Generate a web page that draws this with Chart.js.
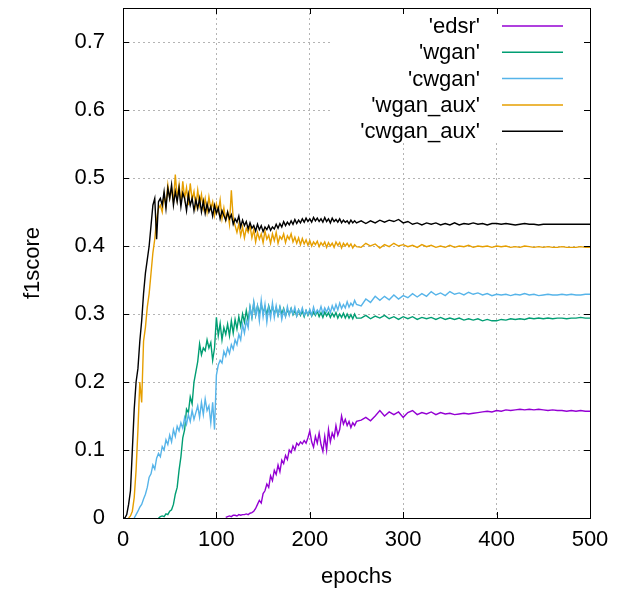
<!DOCTYPE html>
<html lang="en">
<head>
<meta charset="UTF-8">
<title>f1score vs epochs</title>
<script src="https://cdn.jsdelivr.net/npm/chart.js"></script>
<style>
  html, body { margin: 0; padding: 0; background: #fff; }
  #wrap { width: 627px; height: 597px; position: relative; }
</style>
</head>
<body>
<div id="wrap"><canvas id="f1Chart"></canvas></div>
<script>
// epochs: every 2 up to 250, then every 5
const epochs = [
  0, 2, 4, 6, 8, 10, 12, 14, 16, 18,
  20, 22, 24, 26, 28, 30, 32, 34, 36, 38,
  40, 42, 44, 46, 48, 50, 52, 54, 56, 58,
  60, 62, 64, 66, 68, 70, 72, 74, 76, 78,
  80, 82, 84, 86, 88, 90, 92, 94, 96, 98,
  100, 102, 104, 106, 108, 110, 112, 114, 116, 118,
  120, 122, 124, 126, 128, 130, 132, 134, 136, 138,
  140, 142, 144, 146, 148, 150, 152, 154, 156, 158,
  160, 162, 164, 166, 168, 170, 172, 174, 176, 178,
  180, 182, 184, 186, 188, 190, 192, 194, 196, 198,
  200, 202, 204, 206, 208, 210, 212, 214, 216, 218,
  220, 222, 224, 226, 228, 230, 232, 234, 236, 238,
  240, 242, 244, 246, 248, 250,
  255, 260, 265, 270, 275, 280, 285, 290, 295, 300,
  305, 310, 315, 320, 325, 330, 335, 340, 345, 350,
  355, 360, 365, 370, 375, 380, 385, 390, 395, 400,
  405, 410, 415, 420, 425, 430, 435, 440, 445, 450,
  455, 460, 465, 470, 475, 480, 485, 490, 495, 500
];

const edsr = [
  null, null, null, null, null, null, null, null, null, null,
  null, null, null, null, null, null, null, null, null, null,
  null, null, null, null, null, null, null, null, null, null,
  null, null, null, null, null, null, null, null, null, null,
  null, null, null, null, null, null, null, null, null, null,
  null, null, null, null, null, 0.001, 0.002, 0.003, 0.002, 0.004,
  0.004, 0.003, 0.005, 0.004, 0.005, 0.005, 0.006, 0.005, 0.007, 0.008,
  0.01, 0.014, 0.02, 0.026, 0.022, 0.036, 0.04, 0.05, 0.045, 0.062,
  0.055, 0.07, 0.064, 0.078, 0.068, 0.085, 0.08, 0.092, 0.086, 0.1,
  0.096, 0.106, 0.1, 0.11, 0.107, 0.112, 0.109, 0.114, 0.11, 0.118,
  0.128, 0.112, 0.104, 0.12, 0.11, 0.125, 0.108, 0.098, 0.12, 0.1,
  0.13, 0.112, 0.125, 0.118, 0.136, 0.122, 0.13, 0.15, 0.138, 0.145,
  0.136, 0.142, 0.133, 0.14, 0.136, 0.142,
  0.144, 0.148, 0.143, 0.15, 0.158, 0.15, 0.156, 0.152, 0.156, 0.148,
  0.155, 0.158, 0.152, 0.155, 0.153, 0.156, 0.152, 0.155, 0.153, 0.154,
  0.152, 0.153, 0.154, 0.153, 0.154, 0.155, 0.156, 0.157, 0.156, 0.158,
  0.157, 0.159, 0.158, 0.159, 0.16, 0.159, 0.16, 0.159, 0.16, 0.159,
  0.158, 0.159, 0.158, 0.158, 0.157, 0.158, 0.157, 0.158, 0.157, 0.157
];

const wgan = [
  null, null, null, null, null, null, null, null, null, null,
  null, null, null, null, null, null, null, null, null, 0,
  0.002, 0.003, 0.002, 0.006, 0.005, 0.01, 0.012, 0.02, 0.035, 0.045,
  0.07, 0.09, 0.118, 0.13, 0.16, 0.155, 0.178, 0.168, 0.2, 0.215,
  0.23, 0.256, 0.24, 0.25, 0.246, 0.262, 0.25, 0.258, 0.232, 0.25,
  0.295, 0.268, 0.286, 0.262, 0.28, 0.27, 0.285, 0.268, 0.29, 0.272,
  0.292, 0.278, 0.296, 0.282, 0.3, 0.288, 0.305, 0.29, 0.31, 0.295,
  0.316, 0.298, 0.312, 0.3, 0.314, 0.302, 0.31, 0.299, 0.312, 0.301,
  0.311, 0.3, 0.309, 0.298, 0.31, 0.3, 0.308, 0.297, 0.306, 0.3,
  0.308, 0.299, 0.305, 0.297, 0.306, 0.298, 0.304, 0.296, 0.305, 0.298,
  0.305, 0.297, 0.303, 0.298, 0.304, 0.296, 0.302, 0.295, 0.303, 0.297,
  0.302, 0.295, 0.301, 0.296, 0.302, 0.294, 0.3, 0.295, 0.301, 0.294,
  0.3, 0.294, 0.299, 0.293, 0.3, 0.294,
  0.294, 0.298, 0.293, 0.297, 0.294, 0.298, 0.293, 0.296, 0.292, 0.296,
  0.293, 0.296, 0.292, 0.295, 0.293, 0.295, 0.292, 0.295, 0.292, 0.294,
  0.292, 0.294, 0.291, 0.293, 0.291, 0.293, 0.29, 0.292, 0.29, 0.29,
  0.292, 0.291, 0.293, 0.292, 0.293, 0.292, 0.294, 0.293, 0.294, 0.293,
  0.294, 0.293, 0.294, 0.294, 0.293, 0.294, 0.294, 0.295, 0.294, 0.294
];

const cwgan = [
  null, null, null, null, null, null, 0, 0.005, 0.01, 0.016,
  0.02, 0.028, 0.035, 0.045, 0.06, 0.065, 0.078, 0.072, 0.088, 0.095,
  0.09, 0.105, 0.1, 0.115, 0.108, 0.122, 0.112, 0.13, 0.12, 0.135,
  0.128, 0.14, 0.132, 0.148, 0.138, 0.152, 0.142, 0.158, 0.145, 0.155,
  0.165, 0.148, 0.17, 0.152, 0.175, 0.158, 0.165, 0.14, 0.17, 0.13,
  0.21, 0.225, 0.232, 0.228, 0.245, 0.238, 0.25, 0.242, 0.255, 0.248,
  0.262, 0.255, 0.27, 0.262, 0.285, 0.272, 0.29, 0.28, 0.31, 0.295,
  0.318, 0.298, 0.312, 0.29, 0.32, 0.296, 0.314, 0.288, 0.31, 0.294,
  0.316, 0.295, 0.312, 0.298, 0.31, 0.292, 0.306, 0.296, 0.311, 0.298,
  0.308, 0.3, 0.31, 0.297, 0.306, 0.3, 0.309, 0.298, 0.305, 0.299,
  0.307, 0.298, 0.31, 0.3, 0.306, 0.302, 0.311, 0.301, 0.309, 0.303,
  0.31, 0.302, 0.312, 0.305, 0.314, 0.306, 0.316, 0.308, 0.314, 0.309,
  0.318, 0.31, 0.316, 0.312, 0.32, 0.314,
  0.312, 0.322, 0.317, 0.326, 0.32, 0.326, 0.321, 0.328, 0.322, 0.327,
  0.324, 0.33, 0.325, 0.33, 0.326, 0.333, 0.328, 0.331, 0.327, 0.333,
  0.329, 0.331, 0.328, 0.332, 0.329, 0.331, 0.328, 0.33, 0.327, 0.329,
  0.328, 0.329, 0.327, 0.329, 0.328, 0.33, 0.328, 0.329, 0.327, 0.328,
  0.329, 0.328, 0.328, 0.329, 0.328, 0.329, 0.328, 0.328, 0.329, 0.329
];

const wganAux = [
  null, null, null, 0, 0.003, 0.01, 0.03, 0.07, 0.13, 0.2,
  0.17, 0.26, 0.28, 0.31, 0.33, 0.36, 0.39, 0.41, 0.44, 0.455,
  0.46, 0.45, 0.475, 0.46, 0.49, 0.47, 0.485, 0.465, 0.505, 0.47,
  0.49, 0.462, 0.495, 0.47, 0.486, 0.46, 0.492, 0.468, 0.48, 0.458,
  0.482, 0.46, 0.476, 0.455, 0.47, 0.45, 0.472, 0.455, 0.465, 0.445,
  0.462, 0.45, 0.468, 0.44, 0.456, 0.438, 0.45, 0.432, 0.482, 0.44,
  0.43, 0.42, 0.432, 0.415, 0.428, 0.412, 0.426, 0.42, 0.43, 0.412,
  0.424, 0.406, 0.42, 0.41, 0.418, 0.405, 0.422, 0.41, 0.416, 0.404,
  0.418, 0.408, 0.42, 0.404, 0.414, 0.41, 0.418, 0.405, 0.415, 0.41,
  0.418, 0.406, 0.413, 0.404, 0.412, 0.402, 0.411, 0.403, 0.409, 0.401,
  0.408, 0.4, 0.406, 0.402, 0.407, 0.399, 0.405, 0.401, 0.406, 0.398,
  0.405, 0.4, 0.404, 0.398, 0.406, 0.401, 0.405, 0.397, 0.404, 0.4,
  0.404, 0.399, 0.403, 0.397, 0.402, 0.399,
  0.398, 0.404, 0.4, 0.403, 0.397, 0.402, 0.399, 0.404, 0.4, 0.402,
  0.399, 0.401, 0.398, 0.402, 0.399, 0.401, 0.398, 0.4, 0.398, 0.401,
  0.398, 0.4, 0.399, 0.401, 0.398, 0.4, 0.399, 0.4, 0.398, 0.4,
  0.399, 0.4, 0.398, 0.399, 0.398, 0.4, 0.399, 0.398, 0.399, 0.398,
  0.399, 0.398, 0.398, 0.399, 0.398, 0.398, 0.398, 0.399, 0.398, 0.398
];

const cwganAux = [
  0, 0, 0.005, 0.02, 0.04, 0.1, 0.16, 0.2, 0.22, 0.26,
  0.29, 0.33, 0.36, 0.38, 0.4, 0.43, 0.46, 0.47, 0.41, 0.465,
  0.47, 0.46, 0.48, 0.455, 0.485, 0.47, 0.49, 0.46, 0.48, 0.465,
  0.485, 0.458, 0.478, 0.47, 0.452, 0.476, 0.46, 0.47, 0.452, 0.468,
  0.455, 0.47, 0.45, 0.466, 0.448, 0.462, 0.45, 0.458, 0.444, 0.46,
  0.448, 0.456, 0.44, 0.452, 0.445, 0.438, 0.45, 0.44, 0.446, 0.432,
  0.44, 0.435, 0.444, 0.428, 0.438, 0.43, 0.436, 0.425, 0.434, 0.426,
  0.43, 0.422, 0.432, 0.424, 0.43, 0.421, 0.428, 0.424, 0.43, 0.423,
  0.428, 0.425, 0.432, 0.426, 0.433, 0.428, 0.436, 0.43, 0.435, 0.431,
  0.437, 0.432, 0.439, 0.433, 0.438, 0.434, 0.44, 0.435, 0.441, 0.436,
  0.44, 0.435, 0.442, 0.437, 0.441, 0.436, 0.44, 0.435, 0.442, 0.436,
  0.44, 0.434, 0.441, 0.436, 0.439, 0.435, 0.44, 0.434, 0.438, 0.435,
  0.437, 0.433, 0.438, 0.434, 0.437, 0.434,
  0.437, 0.433, 0.437, 0.434, 0.438, 0.435, 0.438, 0.436, 0.439, 0.434,
  0.436, 0.432, 0.434, 0.431, 0.434, 0.432, 0.434, 0.431, 0.433, 0.431,
  0.434, 0.431, 0.433, 0.432, 0.434, 0.432, 0.433, 0.431, 0.433, 0.433,
  0.432, 0.433, 0.432, 0.431, 0.432, 0.433, 0.432, 0.432, 0.431, 0.432,
  0.432, 0.432, 0.432, 0.432, 0.432, 0.432, 0.432, 0.432, 0.432, 0.432
];

const xTicks = [0, 100, 200, 300, 400, 500];
const yTicks = [0, 0.1, 0.2, 0.3, 0.4, 0.5, 0.6, 0.7];

const FONT = "'Liberation Sans', Arial, sans-serif";

function toPoints(values) {
  const pts = [];
  values.forEach((v, i) => { if (v !== null) pts.push({ x: epochs[i], y: v }); });
  return pts;
}

const series = [
  { label: "'edsr'", values: edsr, color: '#9400d3' },
  { label: "'wgan'", values: wgan, color: '#009e73' },
  { label: "'cwgan'", values: cwgan, color: '#56b4e9' },
  { label: "'wgan_aux'", values: wganAux, color: '#e69f00' },
  { label: "'cwgan_aux'", values: cwganAux, color: '#000000' }
];

// gnuplot-like key, border and inward ticks
const gnuplotFrame = {
  id: 'gnuplotFrame',
  beforeDatasetsDraw(chart) {
    const { ctx, chartArea } = chart;
    const r = chartArea.right, t = chartArea.top;
    ctx.save();
    ctx.fillStyle = '#fff';
    ctx.fillRect(r - 260, t + 1, 259, 133);
    ctx.font = '22px ' + FONT;
    ctx.textAlign = 'right';
    ctx.textBaseline = 'middle';
    chart.data.datasets.forEach((ds, i) => {
      const y = t + 18 + i * 26.3;
      ctx.fillStyle = '#000';
      ctx.fillText(ds.label, r - 110, y + 1);
      ctx.strokeStyle = ds.borderColor;
      ctx.lineWidth = 1.5;
      ctx.beginPath();
      ctx.moveTo(r - 88, y);
      ctx.lineTo(r - 27, y);
      ctx.stroke();
    });
    ctx.restore();
  },
  afterDraw(chart) {
    const { ctx, chartArea, scales } = chart;
    const { left, right, top, bottom } = chartArea;
    ctx.save();
    ctx.strokeStyle = '#000';
    ctx.lineWidth = 1;
    ctx.beginPath();
    scales.y.ticks.forEach(tk => {
      const py = Math.round(scales.y.getPixelForValue(tk.value)) + 0.5;
      ctx.moveTo(left, py); ctx.lineTo(left + 6, py);
      ctx.moveTo(right, py); ctx.lineTo(right - 6, py);
    });
    scales.x.ticks.forEach(tk => {
      const px = Math.round(scales.x.getPixelForValue(tk.value)) + 0.5;
      ctx.moveTo(px, bottom); ctx.lineTo(px, bottom - 6);
      ctx.moveTo(px, top); ctx.lineTo(px, top + 6);
    });
    ctx.stroke();
    ctx.strokeRect(Math.round(left) + 0.5, Math.round(top) + 0.5,
      Math.round(right - left), Math.round(bottom - top));
    ctx.restore();
  }
};

const ctx = document.getElementById('f1Chart').getContext('2d');
new Chart(ctx, {
  type: 'line',
  data: {
    datasets: series.map((s, i) => ({
      label: s.label,
      data: toPoints(s.values),
      borderColor: s.color,
      backgroundColor: s.color,
      borderWidth: 1.4,
      pointRadius: 0,
      tension: 0,
      fill: false,
      order: series.length - i
    }))
  },
  options: {
    responsive: true,
    maintainAspectRatio: false,
    animation: false,
    layout: { padding: { top: 8, right: 37, bottom: 0, left: 0 } },
    plugins: {
      legend: { display: false },
      tooltip: { enabled: false }
    },
    scales: {
      x: {
        type: 'linear',
        min: 0,
        max: 500,
        afterFit: (scale) => { scale.height = 79; scale.paddingLeft = 0; scale.paddingRight = 0; },
        afterBuildTicks: (scale) => { scale.ticks = xTicks.map(v => ({ value: v })); },
        ticks: {
          color: '#000',
          padding: 9,
          font: { family: FONT, size: 22 },
          callback: (v) => String(v)
        },
        grid: { color: '#b4b4b4', lineWidth: 1, drawTicks: false },
        border: { display: false, dash: [2, 3] },
        title: {
          display: true,
          text: 'epochs',
          color: '#000',
          font: { family: FONT, size: 22 },
          padding: { top: 0, bottom: 7 }
        }
      },
      y: {
        type: 'linear',
        min: 0,
        max: 0.75,
        afterFit: (scale) => { scale.width = 123; scale.paddingTop = 0; scale.paddingBottom = 0; },
        afterBuildTicks: (scale) => { scale.ticks = yTicks.map(v => ({ value: v })); },
        ticks: {
          color: '#000',
          padding: 18,
          font: { family: FONT, size: 22 },
          callback: (v) => v === 0 ? '0' : v.toFixed(1)
        },
        grid: { color: '#b4b4b4', lineWidth: 1, drawTicks: false },
        border: { display: false, dash: [2, 3] },
        title: {
          display: true,
          text: 'f1score',
          color: '#000',
          font: { family: FONT, size: 22 },
          padding: { top: 20, bottom: 0 }
        }
      }
    }
  },
  plugins: [gnuplotFrame]
});
</script>
</body>
</html>
